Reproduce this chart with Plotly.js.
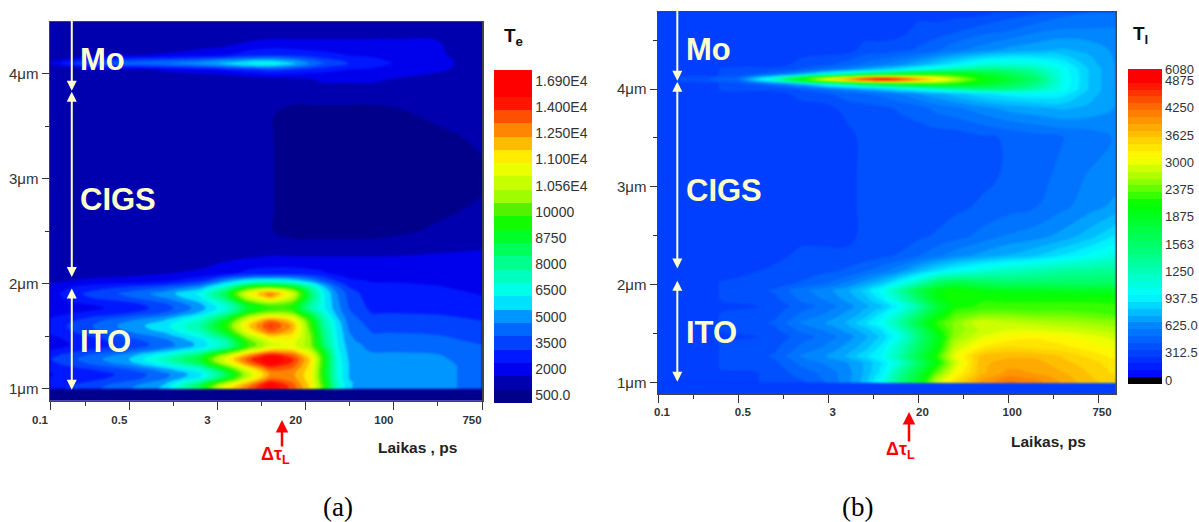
<!DOCTYPE html>
<html>
<head>
<meta charset="utf-8">
<script src="https://cdn.plot.ly/plotly-3.0.1.min.js"></script>
<style>html,body{margin:0;padding:0;background:#fff}.contourlayer{filter:blur(0.9px)}</style>
</head>
<body>
<div id="chart" style="width:1199px;height:522px"></div>
<script>
// x positions are stations along the non-linear time axis: 0.1, 0.5, 3, 20, 100, 750 ps
const timeTickPos = [0.1, 1, 2, 3, 4, 5];
const timeTickText = ["0.1", "0.5", "3", "20", "100", "750"];
const timeMinorPos = [0.5, 1.5, 2.5, 3.5, 4.5];
const depthTickPos = [1, 2, 3, 4];
const depthTickText = ["1μm", "2μm", "3μm", "4μm"];

// Colour legends are non-linear, so z values are given as a position on the legend (one unit = one label step)
const teLegendText = ["500.0","2000","3500","5000","6500","8000","8750","10000","1.056E4","1.100E4","1.250E4","1.400E4","1.690E4"];
const teLegendPos = [0,1,2,3,4,5,6,7,8,9,10,11,12];
const tlLegendText = ["0","312.5","625.0","937.5","1250","1563","1875","2375","3000","3625","4250","4875","6080"];
const tlLegendPos = [0,1,2,3,4,5,6,7,8,9,10,11,11.42];

const teColors = [[-0.3,"rgb(0,0,125)"],[0,"rgb(0,0,140)"],[0.45,"rgb(0,0,170)"],[1,"rgb(0,0,235)"],[1.45,"rgb(0,15,255)"],[2,"rgb(0,60,255)"],[3,"rgb(0,130,255)"],[3.9,"rgb(0,255,255)"],[5,"rgb(0,255,170)"],[6.7,"rgb(0,255,0)"],[7.3,"rgb(70,240,0)"],[8,"rgb(170,255,0)"],[9.3,"rgb(255,255,0)"],[10,"rgb(255,190,0)"],[11,"rgb(255,90,0)"],[11.8,"rgb(255,0,0)"],[12.42,"rgb(255,0,0)"]];
const tlColors = [[-0.147,"rgb(0,0,0)"],[0.1,"rgb(0,0,0)"],[0.11,"rgb(0,0,255)"],[0.5,"rgb(0,30,255)"],[1,"rgb(0,62,255)"],[2,"rgb(0,130,255)"],[3.2,"rgb(0,255,255)"],[4,"rgb(0,255,190)"],[5,"rgb(0,255,110)"],[6.6,"rgb(0,255,0)"],[7.5,"rgb(150,255,0)"],[8.35,"rgb(255,255,0)"],[9,"rgb(255,210,0)"],[10,"rgb(255,130,0)"],[11,"rgb(255,30,0)"],[11.25,"rgb(255,0,0)"],[11.43,"rgb(255,0,0)"]];

// (a) electron temperature
const teTime = [0.1,0.5,1,1.4,1.8,2.1,2.35,2.6,2.85,3.05,3.2,3.35,3.5,3.75,4,4.5,5];
const teDepth = [1,1.035,1.07,1.1,1.136,1.17,1.21,1.245,1.28,1.315,1.35,1.385,1.42,1.465,1.51,1.555,1.6,1.645,1.69,1.73,1.77,1.805,1.84,1.875,1.907,1.94,1.97,2,2.03,2.1,2.25,2.5,2.7,3,3.4,3.6,3.75,3.95,4.04,4.08,4.1,4.13,4.18,4.3,4.5];
const teLevels = [
[1.5,2,2.7,3.4,6,9,10.5,12,10.7,9.3,7,4.5,3.3,3,3,2.95,2.5],
[1.45,1.9,2.6,3.3,5.6,8.5,10.1,11.7,10.6,9.2,6.9,4.5,3.3,3,3,2.95,2.5],
[1.35,1.7,2.3,3,4.8,7.2,9.2,11,10.3,9.1,6.7,4.4,3.3,3,3,2.95,2.5],
[1.25,1.5,2,2.7,3.9,6,8.4,10.3,10.1,9,6.6,4.3,3.2,3,3,2.95,2.5],
[1.2,1.4,1.9,2.6,3.6,5.5,8,10,10,9,6.5,4.3,3.2,3,3,2.95,2.5],
[1.27,1.55,2.1,2.9,3.95,6,8.4,10.3,10.15,9.05,6.5,4.3,3.2,3,3,2.95,2.5],
[1.45,1.9,2.6,3.55,4.8,7.1,9.35,11,10.5,9.15,6.6,4.25,3.2,3,3,2.95,2.5],
[1.62,2.25,3.1,4.2,5.6,8.2,10.3,11.7,10.85,9.25,6.65,4.2,3.2,2.95,2.95,2.9,2.5],
[1.7,2.4,3.3,4.5,6,8.7,10.7,12,11,9.3,6.7,4.2,3.15,2.9,2.9,2.85,2.45],
[1.6,2.25,3.1,4.2,5.6,8.1,10.1,11.4,10.6,9,6.6,4.15,3.1,2.85,2.85,2.8,2.4],
[1.35,1.9,2.6,3.5,4.7,6.65,8.75,10.1,9.75,8.4,6.25,4.05,3.05,2.75,2.75,2.7,2.35],
[1.1,1.55,2.1,2.8,3.8,5.2,7.4,8.8,8.9,7.75,5.95,3.95,3,2.65,2.65,2.6,2.3],
[1,1.4,1.9,2.5,3.4,4.6,6.8,8.2,8.5,7.5,5.5,3.9,2.95,2.6,2.6,2.55,2.25],
[1.05,1.5,2.05,2.65,3.6,4.9,7.2,8.6,8.7,7.5,5.4,3.85,2.85,2.45,2.45,2.4,2.1],
[1.2,1.75,2.45,3.05,4.1,5.65,8.05,9.6,9.15,7.4,5.3,3.8,2.8,2.3,2.3,2.25,2],
[1.35,2,2.85,3.45,4.6,6.4,8.9,10.6,9.6,7.2,5.1,3.75,2.7,2.2,2.2,2.15,1.9],
[1.4,2.1,3,3.6,4.8,6.7,9.3,11,9.8,7,5,3.7,2.6,2.1,2.1,2.05,1.85],
[1.3,1.95,2.75,3.35,4.5,6.3,8.8,10.35,9.3,6.8,4.8,3.55,2.5,2,2,1.95,1.75],
[1.15,1.6,2.2,2.8,3.9,5.45,7.65,8.85,8.2,6.1,4.5,3.3,2.4,1.85,1.85,1.8,1.6],
[0.97,1.25,1.65,2.25,3.3,4.6,6.5,7.35,7.1,5.4,4.2,3.1,2.3,1.7,1.7,1.65,1.5],
[0.9,1.1,1.4,2,3,4.2,6,6.7,6.6,4.8,3.9,3,2.2,1.6,1.6,1.55,1.4],
[0.92,1.2,1.55,2.15,3.15,4.45,6.4,7.25,6.85,5,3.9,2.95,2.15,1.55,1.55,1.5,1.35],
[0.95,1.45,1.9,2.5,3.45,5,7.35,8.5,7.45,5.3,3.9,2.9,2.1,1.5,1.5,1.45,1.3],
[0.98,1.7,2.25,2.85,3.75,5.55,8.25,9.8,8.05,5.5,3.9,2.85,2.05,1.45,1.45,1.4,1.25],
[1,1.8,2.4,3,3.9,5.8,8.7,10.3,8.3,5.5,3.9,2.8,2,1.4,1.4,1.35,1.2],
[0.95,1.6,2.1,2.6,3.45,5.2,7.6,8.7,7.4,5.2,3.7,2.6,1.85,1.35,1.35,1.3,1.15],
[0.9,1.4,1.8,2.2,3,4.5,6.5,7,6.2,4.8,3.4,2.4,1.7,1.3,1.3,1.25,1.1],
[0.75,1.1,1.3,1.6,2.3,3.7,5,5.3,4.9,3.9,2.9,2,1.5,1.25,1.25,1.2,1.05],
[0.6,0.8,0.9,1.1,1.7,3,3.8,4,3.7,3,2.3,1.7,1.3,1.2,1.2,1.15,1],
[0.4,0.5,0.6,0.7,0.8,1.1,1.4,1.5,1.5,1.4,1.3,1.1,1.05,1.05,1.05,1,0.95],
[0.3,0.3,0.4,0.4,0.5,0.6,0.7,0.75,0.75,0.75,0.75,0.75,0.75,0.75,0.75,0.8,0.85],
[0.3,0.3,0.3,0.3,0.3,0.3,0.3,0.25,0,0,0,0,0,0,0.1,0.3,0.4],
[0.3,0.3,0.3,0.3,0.3,0.3,0.3,0.25,0,0,0,0,0,0,0,0.1,0.3],
[0.3,0.3,0.3,0.3,0.3,0.3,0.3,0.25,0,0,0,0,0,0,0,0,0.1],
[0.3,0.3,0.3,0.3,0.3,0.3,0.3,0.25,0,0,0,0,0,0,0,0.1,0.3],
[0.3,0.3,0.3,0.3,0.3,0.3,0.3,0.25,0,0,0,0,0,0,0.1,0.3,0.3],
[0.3,0.3,0.3,0.3,0.3,0.3,0.3,0.3,0.3,0.3,0.3,0.3,0.3,0.3,0.3,0.3,0.3],
[0.3,0.3,0.3,0.3,0.3,0.3,0.4,0.5,0.6,0.7,0.8,0.8,0.8,0.8,0.7,0.5,0.3],
[0.3,0.4,0.5,0.8,1,1.3,1.6,1.9,1.7,1.5,1.4,1.3,1.2,1.1,0.9,0.8,0.4],
[0.5,1.6,2,2.2,2.6,3,3.4,3.5,3,2.4,2,1.8,1.6,1.4,1.1,0.9,0.4],
[0.8,2.2,2.5,2.7,3,3.4,3.8,4.1,3.4,2.7,2.3,2,1.7,1.5,1.2,0.9,0.4],
[0.5,1.5,2,2.2,2.5,2.9,3.2,3.3,2.9,2.4,2,1.8,1.6,1.4,1.1,0.9,0.4],
[0.3,0.5,0.7,0.8,1,1.2,1.5,1.7,1.6,1.5,1.4,1.3,1.2,1.1,1,0.8,0.4],
[0.3,0.3,0.3,0.3,0.4,0.5,0.75,0.8,0.8,0.8,0.8,0.8,0.8,0.8,0.8,0.75,0.3],
[0.3,0.3,0.3,0.3,0.3,0.3,0.3,0.3,0.3,0.3,0.3,0.3,0.3,0.3,0.3,0.3,0.3]
];

// (b) lattice temperature
const tlTime = [0.1,0.5,1,1.4,1.7,1.95,2.2,2.4,2.6,2.8,3,3.2,3.4,3.7,4,4.3,4.6,4.9,5.2];
const tlDepth = [1,1.05,1.1,1.15,1.2,1.235,1.27,1.315,1.36,1.415,1.47,1.505,1.54,1.575,1.61,1.65,1.69,1.735,1.78,1.82,1.86,1.9,1.94,1.98,2.02,2.14,2.3,2.5,2.8,3.1,3.5,3.8,3.95,4,4.05,4.08,4.1,4.12,4.15,4.2,4.25,4.4,4.6,4.79];
const tlLevels = [
[1,1,1,1.2,1.3,1.6,2,2.5,3.4,4.8,6,7.8,8.6,9.5,10,9.8,9.4,9,8.8],
[1,1,1,1.2,1.4,1.65,2,2.45,3.2,4.6,5.8,7.4,8.35,9.3,9.75,9.6,9.3,8.95,8.7],
[1,1,1,1.2,1.5,1.7,2,2.4,3,4.4,5.6,7,8.1,9.1,9.5,9.4,9.2,8.9,8.6],
[1,1,1.2,1.25,1.6,1.8,2.05,2.4,2.95,4.05,5.3,6.65,7.9,9.1,9.4,9.35,9.1,8.85,8.55],
[1,1,1.2,1.3,1.7,1.9,2.1,2.4,2.9,3.7,5,6.3,7.7,9.1,9.3,9.3,9,8.8,8.5],
[1,1,1.2,1.35,1.8,2,2.25,2.6,3.05,3.95,5.2,6.45,7.85,9.05,9.2,9.2,8.95,8.7,8.4],
[1,1,1.2,1.4,1.9,2.1,2.4,2.8,3.2,4.2,5.4,6.6,8,9,9.1,9.1,8.9,8.6,8.3],
[1,1,1.2,1.35,1.8,2,2.3,2.65,3.1,4.05,5.2,6.4,7.85,8.7,8.9,8.85,8.7,8.45,8.2],
[1,1,1.2,1.3,1.7,1.9,2.2,2.5,3,3.9,5,6.2,7.7,8.4,8.7,8.6,8.5,8.3,8.1],
[1,1,1.2,1.25,1.6,1.8,2.1,2.4,2.85,3.65,4.85,6.1,7.5,8.15,8.45,8.5,8.35,8.15,7.95],
[1,1,1,1.2,1.5,1.7,2,2.3,2.7,3.4,4.7,6,7.3,7.9,8.2,8.35,8.2,8,7.8],
[1,1,1.15,1.25,1.6,1.8,2.1,2.4,2.8,3.6,4.85,6.2,7.25,7.8,8.05,8.1,8,7.85,7.65],
[1,1,1.2,1.3,1.7,1.9,2.2,2.5,2.9,3.8,5,6.4,7.2,7.7,7.9,7.9,7.8,7.7,7.5],
[1,1,1.2,1.35,1.8,2,2.3,2.65,3.1,4.05,5.25,6.55,7.2,7.8,7.8,7.75,7.65,7.55,7.4],
[1,1,1.2,1.4,1.9,2.1,2.4,2.8,3.3,4.3,5.5,6.7,7.2,7.9,7.7,7.6,7.5,7.4,7.3],
[1,1,1.2,1.35,1.8,2,2.3,2.65,3.15,4.05,5.2,6.4,7.05,7.55,7.45,7.35,7.3,7.2,7.1],
[1,1,1.2,1.3,1.7,1.9,2.2,2.5,3,3.8,4.9,6.1,6.9,7.2,7.2,7.1,7.1,7,6.9],
[1,1,1.15,1.25,1.6,1.8,2.1,2.4,2.8,3.5,4.55,5.85,6.7,6.95,6.95,6.9,6.9,6.85,6.8],
[1,1,1,1.2,1.5,1.7,2,2.3,2.6,3.2,4.2,5.6,6.5,6.7,6.7,6.7,6.7,6.7,6.7],
[1,1,1.15,1.25,1.6,1.8,2.1,2.4,2.8,3.55,4.6,5.9,6.55,6.65,6.65,6.65,6.65,6.65,6.6],
[1,1,1.2,1.3,1.7,1.9,2.2,2.5,3,3.9,5,6.2,6.6,6.6,6.6,6.6,6.6,6.6,6.5],
[1,1,1.2,1.35,1.75,1.95,2.25,2.6,3.15,4.1,5.2,6.2,6.6,6.45,6.35,6.35,6.3,6.3,6.25],
[1,1,1.2,1.4,1.8,2,2.3,2.7,3.3,4.3,5.4,6.2,6.6,6.3,6.1,6.1,6,6,6],
[1,1,1.2,1.3,1.6,1.8,2.1,2.45,2.95,3.75,4.7,5.6,6,5.75,5.55,5.55,5.5,5.5,5.55],
[1,1,1.2,1.2,1.4,1.6,1.9,2.2,2.6,3.2,4,5,5.4,5.2,5,5,5,5,5.1],
[1,1,1,1.2,1.2,1.3,1.4,1.6,1.8,2.1,2.5,2.9,3.2,3.6,3.9,4.1,4.3,4.4,4.5],
[1,1,1,1,1.2,1.2,1.2,1.2,1.3,1.4,1.6,1.8,2,2.2,2.4,2.6,2.9,3.2,3.5],
[1,1,1,1,1,1,1,1.2,1.2,1.2,1.3,1.4,1.5,1.7,1.9,2,2.2,2.5,2.9],
[1,1,1,1,1,1,1,1.2,1.2,1.2,1.2,1.2,1.3,1.4,1.5,1.6,1.8,2,2.2],
[1,1,1,1,1,1,1,1.2,1.2,1.2,1.2,1.2,1.2,1.3,1.4,1.5,1.7,1.9,2],
[1,1,1,1,1,1,1,1.2,1.2,1.2,1.2,1.2,1.2,1.3,1.4,1.5,1.6,1.7,1.9],
[1,1,1,1,1,1,1.2,1.25,1.3,1.4,1.5,1.7,1.8,2,2.2,2.3,2.4,2.3,2.1],
[1,1,1,1,1.2,1.3,1.5,1.6,1.7,1.9,2.1,2.3,2.5,2.8,3,3.1,3,2.5,2.1],
[1,1,1.2,1.2,1.4,1.7,2,2.3,2.6,3,3.4,3.8,4.2,4.7,4.6,4.1,3.3,2.6,2.1],
[1,1,1.2,1.7,2.4,3.3,4.2,5,5.5,6,6.4,6.6,6.5,6,5.3,4.6,3.35,2.6,2.1],
[1,1.2,1.5,3.2,5.5,7,8,8.8,9.3,9,8.5,8,7.3,6.3,5.7,4.9,3.4,2.6,2.1],
[1,1.2,1.7,4,6.4,8.2,9.6,10.8,11.3,10.7,9.5,8.5,7.7,6.5,5.8,5,3.4,2.6,2.1],
[1,1.2,1.5,3.2,5.5,7,8,8.8,9.3,9,8.5,8,7.3,6.3,5.7,4.9,3.4,2.6,2.1],
[1,1,1.2,1.7,2.4,3.3,4.2,5,5.5,6,6.4,6.6,6.5,6,5.3,4.6,3.35,2.6,2.1],
[1,1,1.2,1.2,1.4,1.7,2,2.3,2.6,3,3.4,3.8,4.2,4.7,4.6,4.1,3.3,2.6,2.1],
[1,1,1,1,1.2,1.3,1.5,1.7,1.9,2.1,2.4,2.7,3,3.5,3.6,3.5,3.1,2.5,2.1],
[1,1,1,1,1,1,1,1.2,1.2,1.3,1.4,1.6,1.8,2,2.2,2.3,2.4,2.3,2.05],
[1,1,1,1,1,1,1,1,1,1,1.2,1.2,1.3,1.5,1.6,1.8,1.9,1.9,1.9],
[1,1,1,1,1,1,1,1,1,1,1,1,1,1,1.2,1.3,1.5,1.6,1.7]
];

const W = 1199, H = 522;
const SANS = "Liberation Sans, Arial, sans-serif";
const CREAM = "#FFFFCC";

function scale(stops, lo, hi) {
  return stops.map(s => [(s[0] - lo) / (hi - lo), s[1]]);
}

function contour(x, y, z, stops, lo, hi, size, xa, ya, cb) {
  return {
    type: "contour", x: x, y: y, z: z, xaxis: xa, yaxis: ya,
    zauto: false, zmin: lo, zmax: hi, autocontour: false,
    colorscale: scale(stops, lo, hi),
    contours: {coloring: "fill", start: lo, end: hi, size: size, showlines: false},
    line: {width: 0, smoothing: 1.3},
    hoverinfo: "skip",
    colorbar: cb
  };
}

function legend(leftPx, bottomPx, lenPx, thick, pos, text, fontSize) {
  return {
    x: leftPx / W, xanchor: "left", xpad: 0,
    y: 1 - bottomPx / H, yanchor: "bottom", ypad: 0,
    lenmode: "pixels", len: lenPx, thicknessmode: "pixels", thickness: thick,
    outlinewidth: 0, ticks: "", tickmode: "array", tickvals: pos, ticktext: text,
    tickfont: {family: SANS, size: fontSize, color: "#333"}
  };
}

const traces = [
  contour(teTime, teDepth, teLevels, teColors, -0.3, 12.42, 0.509, "x", "y",
    legend(494, 403, 333, 38, teLegendPos, teLegendText, 14)),
  contour(tlTime, tlDepth, tlLevels, tlColors, -0.147, 11.43, 0.2517, "x2", "y2",
    legend(1128, 384, 315, 34, tlLegendPos, tlLegendText, 13))
];

function xAxis(dom, range) {
  return {
    domain: dom, range: range, type: "linear", tickmode: "array",
    tickvals: timeTickPos, ticktext: timeTickText, ticks: "outside", ticklen: 8, tickwidth: 1, tickcolor: "#333",
    tickfont: {family: SANS, size: 11.5, color: "#333", weight: 700},
    minor: {tickmode: "array", tickvals: timeMinorPos, ticks: "outside", ticklen: 4, tickcolor: "#333", showgrid: false},
    showgrid: false, zeroline: false, showline: true, mirror: true, linecolor: "#444", linewidth: 1.5
  };
}
function yAxis(dom, range, anchor, minor) {
  return {
    domain: dom, range: range, type: "linear", anchor: anchor, tickmode: "array",
    tickvals: depthTickPos, ticktext: depthTickText, ticks: "outside", ticklen: 7, tickwidth: 1, tickcolor: "#333",
    tickfont: {family: SANS, size: 15, color: "#333"},
    minor: {tickmode: "array", tickvals: minor, ticks: "outside", ticklen: 4, tickcolor: "#333", showgrid: false},
    showgrid: false, zeroline: false, showline: true, mirror: true, linecolor: "#444", linewidth: 1.5
  };
}

function boundary(xr, yr, u, yHead, yTail) {
  return {xref: xr, yref: yr, axref: xr, ayref: yr, x: u, y: yHead, ax: u, ay: yTail, text: "",
    showarrow: true, arrowside: "end+start", arrowhead: 2, startarrowhead: 2,
    arrowsize: 1, startarrowsize: 1, arrowwidth: 2, arrowcolor: CREAM};
}
function topArrow(xr, yr, u, yHead, lenPx) {
  return {xref: xr, yref: yr, x: u, y: yHead, ax: 0, ay: -lenPx, text: "", showarrow: true,
    arrowhead: 2, arrowsize: 1, arrowwidth: 2, arrowcolor: CREAM};
}
function layer(xr, yr, u, y, text) {
  return {xref: xr, yref: yr, x: u, y: y, xanchor: "left", yanchor: "middle", text: "<b>" + text + "</b>", showarrow: false,
    font: {family: SANS, size: 31, color: CREAM}};
}
function label(px, py, text, font) {
  return {xref: "paper", yref: "paper", x: px / W, y: 1 - py / H, xanchor: "center", yanchor: "middle",
    text: text, showarrow: false, font: font};
}
function pulse(px, headPy, tailLen) {
  return {xref: "paper", yref: "paper", x: px / W, y: 1 - headPy / H, ax: 0, ay: tailLen, text: "",
    showarrow: true, arrowhead: 2, arrowsize: 1, arrowwidth: 2.5, arrowcolor: "#FF0000"};
}

const axisName = {family: SANS, size: 15.5, color: "#222"};
const head = {family: SANS, size: 19, color: "#111"};
const red = {family: SANS, size: 18, color: "#FF0000"};
const serif = {family: "Liberation Serif, Times New Roman, serif", size: 27, color: "#000"};

const layout = {
  width: W, height: H,
  margin: {l: 0, r: 0, t: 0, b: 0, autoexpand: false},
  paper_bgcolor: "#fff", plot_bgcolor: "rgb(0,0,140)",
  showlegend: false,
  xaxis: Object.assign(xAxis([50 / W, 482 / W], [0.1, 5]), {anchor: "y", ticklabelshift: -10}),
  yaxis: yAxis([1 - 400.7 / H, 1 - 22 / H], [0.886, 4.495], "x", [1.5, 2.5, 3.5]),
  xaxis2: Object.assign(xAxis([658 / W, 1115.7 / W], [0.1, 5.197]), {anchor: "y2", ticklabelshift: 4}),
  yaxis2: yAxis([1 - 393 / H, 1 - 12 / H], [0.894, 4.787], "x2", [1.5, 2.5, 3.5, 4.5]),
  shapes: [{type: "rect", xref: "x2", yref: "y2", layer: "below", x0: 0.1, x1: 5.197, y0: 0.894, y1: 4.787, fillcolor: "rgb(0,62,255)", line: {width: 0}}],
  annotations: [
    topArrow("x", "y", 0.347, 3.84, 75),
    boundary("x", "y", 0.347, 3.83, 2.05),
    boundary("x", "y", 0.347, 1.955, 0.977),
    layer("x", "y", 0.42, 4.133, "Mo"),
    layer("x", "y", 0.42, 2.80, "CIGS"),
    layer("x", "y", 0.42, 1.45, "ITO"),
    topArrow("x2", "y2", 0.315, 4.085, 75),
    boundary("x2", "y2", 0.315, 4.075, 2.15),
    boundary("x2", "y2", 0.315, 2.04, 0.994),
    layer("x2", "y2", 0.39, 4.40, "Mo"),
    layer("x2", "y2", 0.39, 2.96, "CIGS"),
    layer("x2", "y2", 0.39, 1.51, "ITO"),
    pulse(282, 420, 28),
    pulse(909, 412, 31),
    label(275, 455, "<b>Δτ<sub>L</sub></b>", red),
    label(900, 450, "<b>Δτ<sub>L</sub></b>", red),
    label(417, 447, "<b>Laikas , ps</b>", axisName),
    label(1048, 441, "<b>Laikas, ps</b>", axisName),
    label(513, 37, "<b>T<sub>e</sub></b>", head),
    label(1140, 35, "<b>T<sub>l</sub></b>", head),
    label(338, 507, "(a)", serif),
    label(857, 507, "(b)", serif)
  ]
};
Plotly.newPlot("chart", traces, layout, {displayModeBar: false, staticPlot: true});
</script>
</body>
</html>
